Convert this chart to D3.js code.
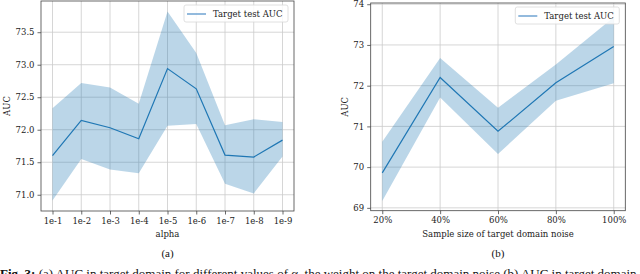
<!DOCTYPE html>
<html>
<head>
<meta charset="utf-8">
<script src="https://cdn.jsdelivr.net/npm/d3@7"></script>
<style>
  body { margin: 0; background: #fff; }
  svg { display: block; }
</style>
</head>
<body>
<div id="chart"></div>
<script>
// panel (a): AUC vs alpha
const alphas = ["1e-1", "1e-2", "1e-3", "1e-4", "1e-5", "1e-6", "1e-7", "1e-8", "1e-9"];
const aucA = [71.6, 72.145, 72.03, 71.86, 72.94, 72.63, 71.61, 71.58, 71.84];
const upperA = [72.33, 72.72, 72.65, 72.4, 73.82, 73.18, 72.07, 72.16, 72.12];
const lowerA = [70.91, 71.55, 71.39, 71.33, 72.06, 72.09, 71.17, 71.02, 71.59];
const yTicksA = [71.0, 71.5, 72.0, 72.5, 73.0, 73.5];

// panel (b): AUC vs sample size
const sizes = ["20%", "40%", "60%", "80%", "100%"];
const aucB = [69.86, 72.2, 70.88, 72.07, 72.96];
const upperB = [70.62, 72.68, 71.46, 72.52, 73.68];
const lowerB = [69.17, 71.71, 70.32, 71.63, 72.06];
const yTicksB = [69, 70, 71, 72, 73, 74];

const width = 640, height = 274;
const blue = "#1f77b4";
const tickFont = "'DejaVu Serif', serif";
const capFont = "'Liberation Serif', 'Times New Roman', serif";

const svg = d3.select("#chart").append("svg")
  .attr("width", width)
  .attr("height", height);

function panel({ left, right, top, bottom, cats, mean, upper, lower, yDomain, yTicks, fmt, xLabel, sub, ylabX }) {
  const g = svg.append("g");
  const n = cats.length;
  // matplotlib style 5% padding on the index axis
  const x = d3.scaleLinear().domain([-0.05 * (n - 1), (n - 1) * 1.05]).range([left, right]);
  const y = d3.scaleLinear().domain(yDomain).range([bottom, top]);

  // grid
  g.append("g").selectAll("line").data(d3.range(n)).join("line")
    .attr("x1", (d) => x(d)).attr("x2", (d) => x(d))
    .attr("y1", top).attr("y2", bottom)
    .attr("stroke", "#cccccc").attr("stroke-width", 0.8);
  g.append("g").selectAll("line").data(yTicks.filter((t) => y(t) > top + 1)).join("line")
    .attr("x1", left).attr("x2", right)
    .attr("y1", (d) => y(d)).attr("y2", (d) => y(d))
    .attr("stroke", "#cccccc").attr("stroke-width", 0.8);

  // band
  const area = d3.area()
    .x((d, i) => x(i))
    .y0((d, i) => y(lower[i]))
    .y1((d, i) => y(upper[i]));
  g.append("path").datum(mean)
    .attr("d", area)
    .attr("fill", blue).attr("fill-opacity", 0.3);

  // mean line
  const line = d3.line().x((d, i) => x(i)).y((d) => y(d));
  g.append("path").datum(mean)
    .attr("d", line)
    .attr("fill", "none").attr("stroke", blue).attr("stroke-width", 1.2);

  // axes
  const xAxis = d3.axisBottom(x).tickValues(d3.range(n)).tickFormat((i) => cats[i]).tickSize(3.5).tickPadding(3);
  const yAxis = d3.axisLeft(y).tickValues(yTicks).tickFormat(fmt).tickSize(3.5).tickPadding(3);
  const gx = g.append("g").attr("transform", `translate(0,${bottom})`).call(xAxis);
  const gy = g.append("g").attr("transform", `translate(${left},0)`).call(yAxis);
  [gx, gy].forEach((a) => {
    a.select(".domain").remove();
    a.selectAll("text").attr("font-family", tickFont).attr("font-size", 8.5).attr("fill", "#222");
    a.selectAll("line").attr("stroke", "#444").attr("stroke-width", 0.8);
  });

  // frame
  g.append("rect")
    .attr("x", left).attr("y", top)
    .attr("width", right - left).attr("height", bottom - top)
    .attr("fill", "none").attr("stroke", "#444").attr("stroke-width", 0.8);

  // legend
  const lw = 104, lh = 17;
  const lx = right - 6 - lw, ly = top + 4;
  g.append("rect")
    .attr("x", lx).attr("y", ly).attr("width", lw).attr("height", lh)
    .attr("rx", 2)
    .attr("fill", "#fff").attr("fill-opacity", 0.85)
    .attr("stroke", "#d8d8d8").attr("stroke-width", 0.8);
  g.append("line")
    .attr("x1", lx + 3).attr("x2", lx + 22)
    .attr("y1", ly + 9).attr("y2", ly + 9)
    .attr("stroke", "#6fa3d2").attr("stroke-width", 1.5);
  g.append("text")
    .attr("x", lx + 29).attr("y", ly + 12)
    .attr("font-family", tickFont).attr("font-size", 8.5).attr("fill", "#222")
    .text("Target test AUC");

  // labels
  const cx = (left + right) / 2;
  g.append("text")
    .attr("x", cx).attr("y", bottom + 26)
    .attr("text-anchor", "middle")
    .attr("font-family", tickFont).attr("font-size", 8.5).attr("fill", "#222")
    .text(xLabel);
  g.append("text")
    .attr("transform", `translate(${ylabX},${(top + bottom) / 2}) rotate(-90)`)
    .attr("text-anchor", "middle")
    .attr("font-family", tickFont).attr("font-size", 8.5).attr("fill", "#222")
    .text("AUC");
  g.append("text")
    .attr("x", cx).attr("y", bottom + 46)
    .attr("text-anchor", "middle")
    .attr("font-family", capFont).attr("font-size", 11).attr("fill", "#111")
    .text(sub);
}

panel({
  left: 41, right: 294, top: 1, bottom: 211,
  cats: alphas, mean: aucA, upper: upperA, lower: lowerA,
  yDomain: [70.75, 73.98], yTicks: yTicksA, fmt: d3.format(".1f"),
  xLabel: "alpha", sub: "(a)", ylabX: 9.5
});

panel({
  left: 370.7, right: 625.3, top: 3, bottom: 210.7,
  cats: sizes, mean: aucB, upper: upperB, lower: lowerB,
  yDomain: [68.93, 74.03], yTicks: yTicksB, fmt: d3.format("d"),
  xLabel: "Sample size of target domain noise", sub: "(b)", ylabX: 348
});

// caption, cut by the bottom edge like the source
const cap = svg.append("text")
  .attr("x", 0).attr("y", 278)
  .attr("font-family", capFont).attr("font-size", 13).attr("fill", "#111");
cap.append("tspan").attr("font-weight", "bold").text("Fig. 3:");
cap.append("tspan").text(" (a) AUC in target domain for different values of \u03b1, the weight on the target domain noise (b) AUC in target domain for different");
</script>
</body>
</html>
